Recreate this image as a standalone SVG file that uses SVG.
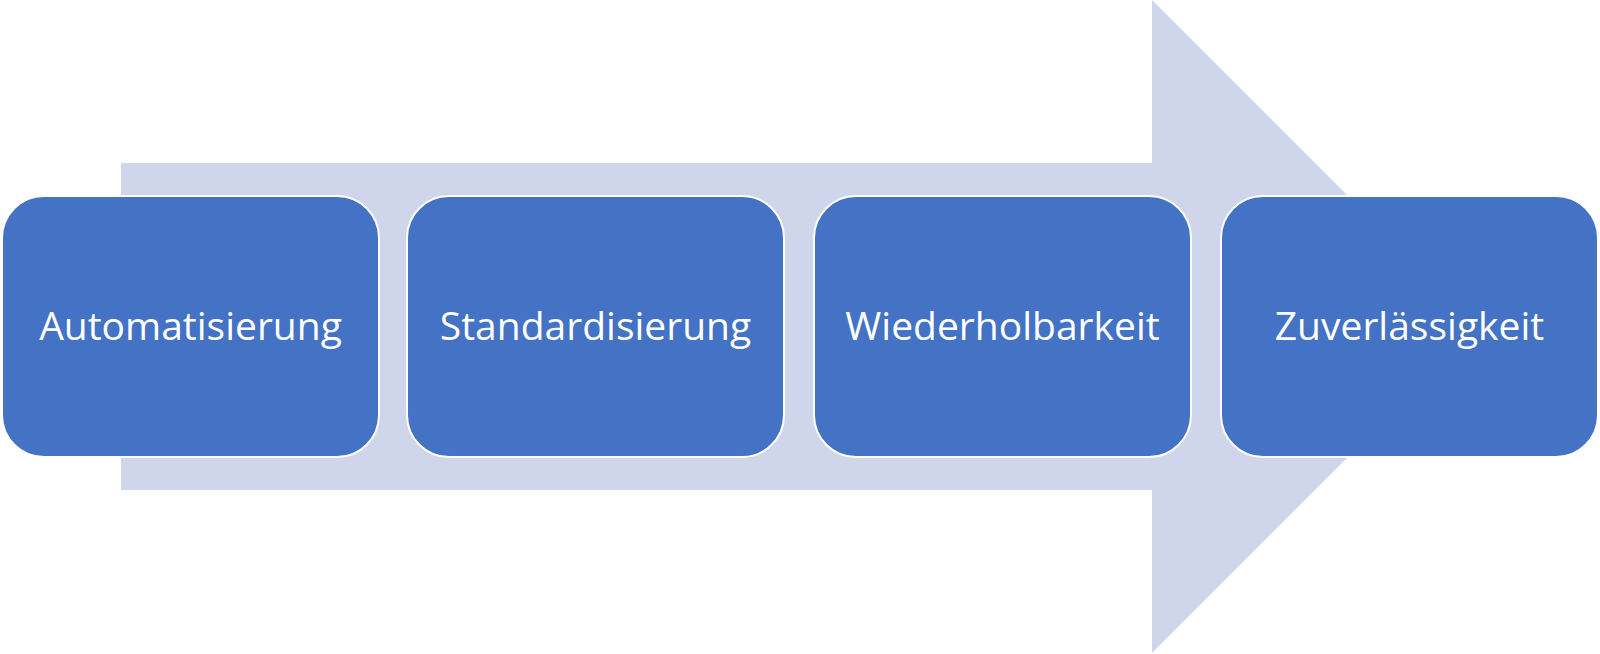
<svg xmlns="http://www.w3.org/2000/svg" width="1600" height="654" viewBox="0 0 1600 654">
<style>
.box{fill:#4472C4;stroke:#FFFFFF;stroke-width:2}
.lbl{font-family:"Open Sans","Noto Sans",sans-serif;font-size:39px;fill:#FFFFFF;text-anchor:middle}
</style>
<rect width="1600" height="654" fill="#FFFFFF"/>
<g id="arrow">
<polygon points="121,163 1152,163 1152,0 1478.5,326.5 1152,653 1152,490 121,490" fill="#CFD5EA"/>
</g>
<g id="connectors"></g>
<g id="node1">
<rect class="box" x="2" y="196" width="377" height="261" rx="42" ry="42"/>
<text class="lbl" x="190.5" y="340">Automatisierung</text>
</g>
<g id="node2">
<rect class="box" x="407" y="196" width="377" height="261" rx="42" ry="42"/>
<text class="lbl" x="595.5" y="340">Standardisierung</text>
</g>
<g id="node3">
<rect class="box" x="814" y="196" width="377" height="261" rx="42" ry="42"/>
<text class="lbl" x="1002.5" y="340">Wiederholbarkeit</text>
</g>
<g id="node4">
<rect class="box" x="1221" y="196" width="377" height="261" rx="42" ry="42"/>
<text class="lbl" x="1409.5" y="340">Zuverlässigkeit</text>
</g>
</svg>
